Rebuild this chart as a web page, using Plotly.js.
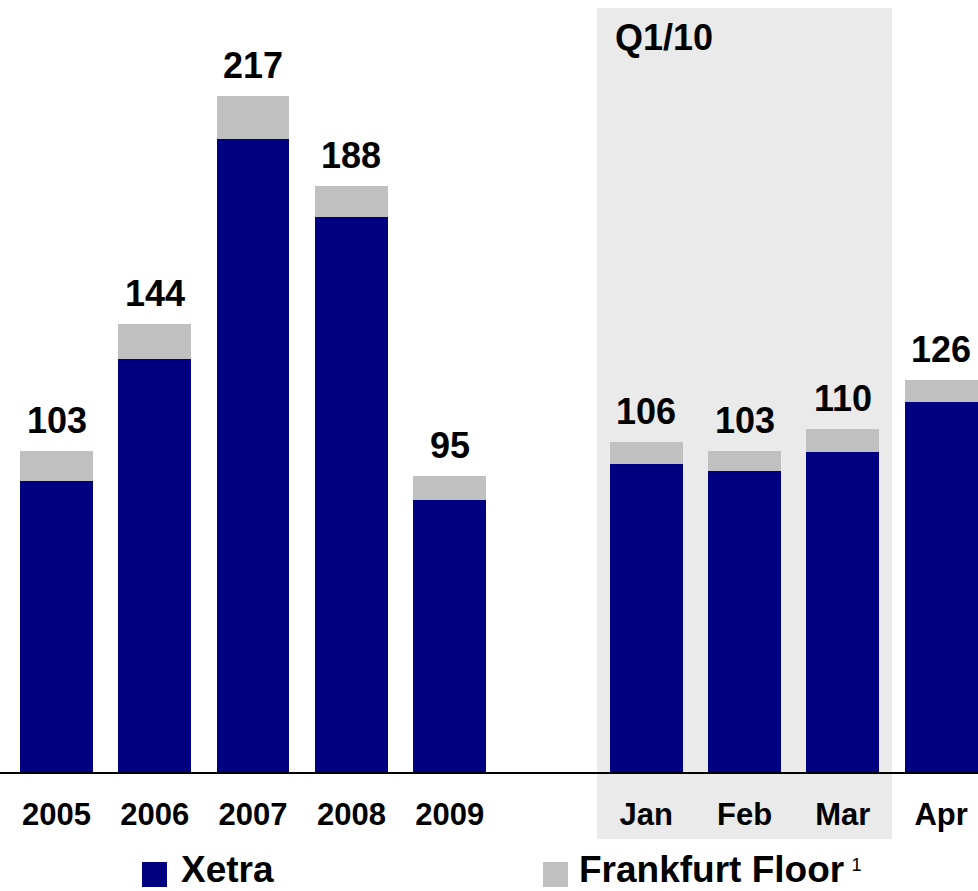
<!DOCTYPE html>
<html>
<head>
<meta charset="utf-8">
<script src="https://cdn.plot.ly/plotly-3.0.1.min.js"></script>
<style>
  body { margin: 0; background: #fff; }
  #graph { width: 978px; height: 891px; }
</style>
</head>
<body>
<div id="graph"></div>
<script>
// data
var periods = ['2005', '2006', '2007', '2008', '2009', 'Jan', 'Feb', 'Mar', 'Apr']
var xetra = [93.4, 132.6, 203.2, 178.2, 87.3, 98.9, 96.6, 102.7, 118.8]
var floor = [9.6, 11.4, 13.8, 9.8, 7.7, 7.1, 6.4, 7.3, 7.2]
var totals = [103, 144, 217, 188, 95, 106, 103, 110, 126]

var navy = '#000080'
var grey = '#C0C0C0'
var font_fam = 'Liberation Sans, Arial, sans-serif'

// years sit in slots 0..4, then one empty slot, months follow
var slots = periods.map(function(p, i){ return i < 5 ? i : i + 1 })

var trace_xetra = {
  type: 'bar',
  x: slots,
  y: xetra,
  name: 'Xetra',
  width: 0.74,
  marker: {color: navy, line: {width: 0}},
  hoverinfo: 'skip'
}
var trace_floor = {
  type: 'bar',
  x: slots,
  y: floor,
  name: 'Frankfurt Floor',
  width: 0.74,
  marker: {color: grey, line: {width: 0}},
  hoverinfo: 'skip'
}

// total labels on top of each stack
var annots = totals.map(function(t, i){
  return {
    x: slots[i], y: t, xref: 'x', yref: 'y',
    text: '<b>' + t + '</b>',
    showarrow: false, yanchor: 'bottom', yshift: 8,
    font: {family: font_fam, size: 36, color: '#000'}
  }
})

annots.push({
  x: 5.5, y: 1, xref: 'x', yref: 'paper',
  text: '<b>Q1/10</b>', showarrow: false,
  xanchor: 'left', yanchor: 'top', xshift: 16, yshift: -7,
  font: {family: font_fam, size: 36, color: '#000'}
})

// legend drawn by hand so the squares can be big
annots.push({
  x: 179/978, y: -0.128, xref: 'paper', yref: 'paper',
  text: '<b>Xetra</b>', showarrow: false, xanchor: 'left', yanchor: 'middle',
  font: {family: font_fam, size: 37, color: '#000'}
})
annots.push({
  x: 577/978, y: -0.128, xref: 'paper', yref: 'paper',
  text: '<b>Frankfurt Floor</b><span style="font-size:26px"> <sup>1</sup></span>', showarrow: false, xanchor: 'left', yanchor: 'middle',
  font: {family: font_fam, size: 37, color: '#000'}
})

var layout = {
  width: 978,
  height: 891,
  margin: {l: 0, r: 0, t: 8, b: 119, pad: 0},
  paper_bgcolor: '#fff',
  plot_bgcolor: 'rgba(0,0,0,0)',
  barmode: 'stack',
  showlegend: false,
  font: {family: font_fam, color: '#000'},
  xaxis: {
    range: [-0.575, 9.375],
    tickvals: slots,
    ticktext: periods.map(function(p){ return '<b>' + p + '</b>' }),
    tickfont: {family: font_fam, size: 31, color: '#000'},
    ticks: '',
    ticklabelstandoff: 14,
    showgrid: false,
    zeroline: false,
    showline: true,
    linecolor: '#000',
    linewidth: 2,
    fixedrange: true
  },
  yaxis: {
    range: [0, 245.3],
    showgrid: false,
    zeroline: false,
    showline: false,
    showticklabels: false,
    ticks: '',
    fixedrange: true
  },
  shapes: [
    {
      type: 'rect', xref: 'x', yref: 'paper', layer: 'below',
      x0: 5.5, x1: 8.5, y0: -0.088, y1: 1,
      fillcolor: '#EAEAEA', line: {width: 0}
    },
    {
      type: 'rect', xref: 'paper', yref: 'paper',
      x0: 142/978, x1: 167/978, y0: -0.1505, y1: -0.1178,
      fillcolor: navy, line: {width: 0}
    },
    {
      type: 'rect', xref: 'paper', yref: 'paper',
      x0: 543/978, x1: 568/978, y0: -0.1505, y1: -0.1178,
      fillcolor: grey, line: {width: 0}
    }
  ],
  annotations: annots
}

Plotly.newPlot('graph', [trace_xetra, trace_floor], layout, {displayModeBar: false, staticPlot: true})
</script>
</body>
</html>
